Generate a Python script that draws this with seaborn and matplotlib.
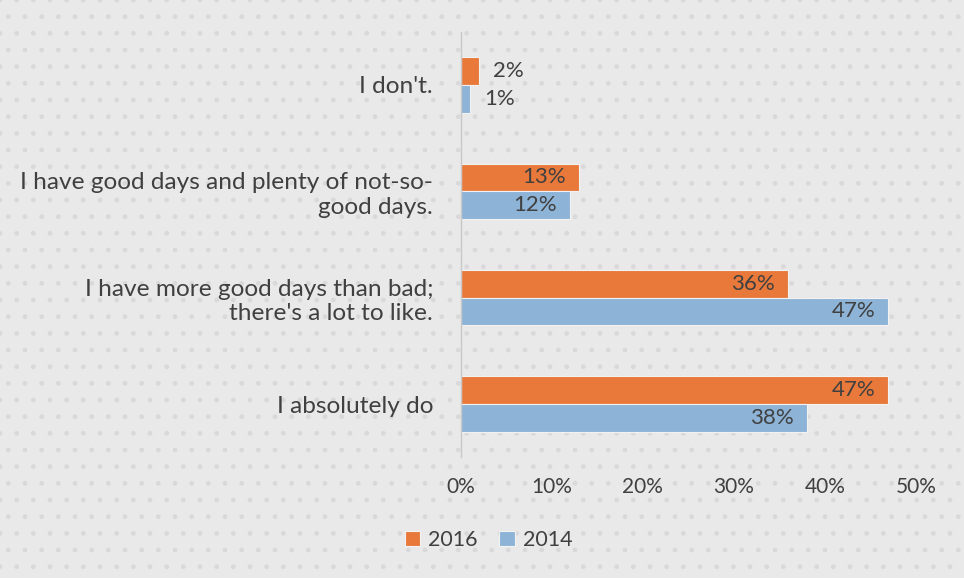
import numpy as np
import pandas as pd
import seaborn as sns
import matplotlib.pyplot as plt
from matplotlib.patches import Rectangle

# data (percent)
answers = ["I don't.",
           "I have good days and plenty of not-so-\ngood days.",
           "I have more good days than bad;\nthere's a lot to like.",
           "I absolutely do"]
years = ["2016", "2014"]
vals_2016 = [2, 13, 36, 47]
vals_2014 = [1, 12, 47, 38]

df = pd.DataFrame({
    "answer": answers * 2,
    "year": ["2016"] * 4 + ["2014"] * 4,
    "pct": vals_2016 + vals_2014,
})

sns.set_theme(style="white")
plt.rcParams["font.family"] = ["Lato", "DejaVu Sans"]

bg = "#e9e9ea"
txt = "#404040"
palette = {"2016": "#e8793a", "2014": "#8db3d6"}

fig = plt.figure(figsize=(9.64, 5.78), dpi=100)
fig.patch.set_facecolor(bg)
# dotted background texture
fig.patches.append(Rectangle((0, 0), 1, 1, transform=fig.transFigure,
                             facecolor="none", edgecolor="#d9d9db",
                             hatch=".", linewidth=0, zorder=-1))

ax = fig.add_axes([0.478, 0.209, 0.472, 0.736])
ax.set_facecolor("none")

sns.barplot(data=df, y="answer", x="pct", hue="year", order=answers,
            hue_order=years, palette=palette, saturation=1, width=0.52,
            orient="h", edgecolor="#f2f2f2", linewidth=0.8, ax=ax)

for cont in ax.containers:
    vals = cont.datavalues
    labels_in = [f"{v:.0f}%" if v >= 5 else "" for v in vals]
    labels_out = [f"{v:.0f}%" if v < 5 else "" for v in vals]
    ax.bar_label(cont, labels=labels_in, padding=-41, color=txt, fontsize=16)
    ax.bar_label(cont, labels=labels_out, padding=10, color=txt, fontsize=16)

ax.set_xlim(0, 50)
ax.set_xticks(np.arange(0, 51, 10))
ax.set_xticklabels([f"{t}%" for t in range(0, 51, 10)], color=txt, fontsize=15)
ax.tick_params(axis="x", length=0, pad=14)
ax.tick_params(axis="y", length=0, pad=20)
for lab in ax.get_yticklabels():
    lab.set_color(txt)
    lab.set_fontsize(17.6)
    lab.set_multialignment("right")

ax.set_xlabel("")
ax.set_ylabel("")
for s in ["top", "right", "bottom"]:
    ax.spines[s].set_visible(False)
ax.spines["left"].set_color("#c8c8c8")
ax.spines["left"].set_linewidth(1)

leg = ax.legend(loc="center", bbox_to_anchor=(0.507, 0.066),
                bbox_transform=fig.transFigure, ncol=2, frameon=False,
                fontsize=15.5, handlelength=0.7, handleheight=0.7,
                handletextpad=0.4, columnspacing=1.0)
for t in leg.get_texts():
    t.set_color(txt)

fig.savefig("out.png", dpi=100, facecolor=bg)
